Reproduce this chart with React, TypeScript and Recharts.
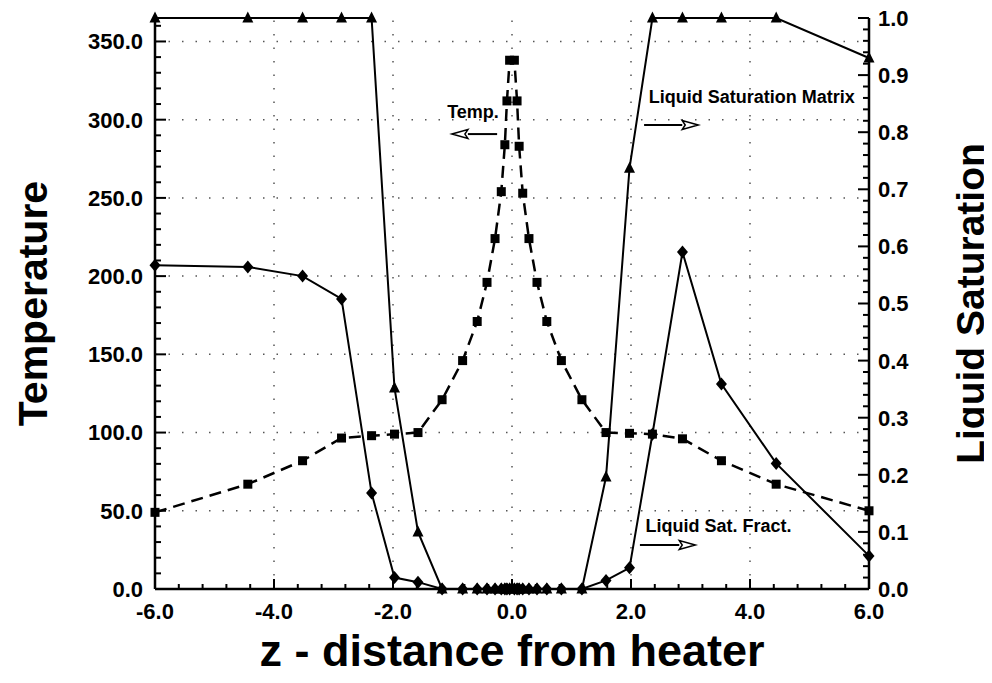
import { LineChart, Line, XAxis, YAxis, ReferenceLine, ReferenceDot } from 'recharts'

// z positions (distance from heater) shared by all three curves
const Z = [
  -6, -4.44, -3.52, -2.865, -2.36, -1.975, -1.58, -1.175, -0.83, -0.585, -0.42, -0.285, -0.18, -0.12, -0.085, -0.04,
  0.04, 0.085, 0.12, 0.18, 0.285, 0.42, 0.585, 0.83, 1.175, 1.58, 1.975, 2.36, 2.865, 3.52, 4.44, 6,
]
// temperature, left axis
const TEMP = [
  49, 67, 82, 96.5, 98, 99, 100, 121, 146, 171, 196, 224, 254, 284, 312, 338,
  338, 312, 283, 253, 224, 196, 171, 146, 121, 100, 99.5, 99, 96, 82, 67, 50,
]
// liquid saturation of the matrix, right axis
const SAT_MATRIX = [
  1, 1, 1, 1, 1, 0.352, 0.1, 0, 0, 0, 0, 0, 0, 0, 0, 0,
  0, 0, 0, 0, 0, 0, 0, 0, 0, 0.196, 0.737, 1, 1, 1, 1, 0.93,
]
// liquid saturation in fractures, right axis
const SAT_FRACT = [
  0.567, 0.564, 0.548, 0.508, 0.168, 0.02, 0.012, 0, 0, 0, 0, 0, 0, 0, 0, 0,
  0, 0, 0, 0, 0, 0, 0, 0, 0, 0.015, 0.037, 0.271, 0.59, 0.359, 0.22, 0.058,
]

const X_MAJOR = [-6, -4, -2, 0, 2, 4, 6]
const X_GRID = [-4, -2, 0, 2, 4]
const T_MAJOR = [0, 50, 100, 150, 200, 250, 300, 350]
const T_GRID = [50, 100, 150, 200, 250, 300, 350]
const S_MAJOR = [0, 0.1, 0.2, 0.3, 0.4, 0.5, 0.6, 0.7, 0.8, 0.9, 1.0]

const rows = Z.map((z, i) => ({ z, temp: TEMP[i], matrix: SAT_MATRIX[i], fract: SAT_FRACT[i] }))

// minor tick positions (axis decoration only)
const steps = (from: number, to: number, step: number) =>
  Array.from({ length: Math.round((to - from) / step) + 1 }, (_, i) => +(from + i * step).toFixed(4))
const X_TICKS = steps(-6, 6, 0.4)
const T_TICKS = steps(0, 360, 10)
const S_TICKS = steps(0, 1, 0.02)

const FONT = '"Liberation Sans", Arial, Helvetica, sans-serif'
const isMajor = (v: number, list: number[]) => list.some(m => Math.abs(m - v) < 1e-6)

const BottomTick = (p: any) => {
  const v = p.payload.value
  const major = isMajor(v, X_MAJOR)
  const ay = p.y - 14
  return (
    <g>
      <line x1={p.x} x2={p.x} y1={ay} y2={ay - (major ? 10 : 5)} stroke="#000" strokeWidth={2} />
      {major && (
        <text x={p.x} y={p.y} dy={16} textAnchor="middle" fontFamily={FONT} fontWeight="bold" fontSize={22} fill="#000">
          {v.toFixed(1)}
        </text>
      )}
    </g>
  )
}

const TopTick = (p: any) => {
  const major = isMajor(p.payload.value, X_MAJOR)
  return <line x1={p.x} x2={p.x} y1={p.y} y2={p.y + (major ? 10 : 5)} stroke="#000" strokeWidth={2} />
}

const LeftTick = (p: any) => {
  const v = p.payload.value
  const major = isMajor(v, T_MAJOR)
  const ax = p.x + 12
  return (
    <g>
      <line x1={ax} x2={ax + (major ? 11 : 6)} y1={p.y} y2={p.y} stroke="#000" strokeWidth={2} />
      {major && (
        <text x={p.x} y={p.y} dy="0.36em" textAnchor="end" fontFamily={FONT} fontWeight="bold" fontSize={22} fill="#000">
          {v.toFixed(1)}
        </text>
      )}
    </g>
  )
}

const RightTick = (p: any) => {
  const v = p.payload.value
  const major = isMajor(v, S_MAJOR)
  const ax = p.x - 9
  return (
    <g>
      <line x1={ax} x2={ax - (major ? 11 : 6)} y1={p.y} y2={p.y} stroke="#000" strokeWidth={2} />
      {major && (
        <text x={p.x} y={p.y} dy="0.36em" textAnchor="start" fontFamily={FONT} fontWeight="bold" fontSize={22} fill="#000">
          {v.toFixed(1)}
        </text>
      )}
    </g>
  )
}

const Square = (p: any) => (
  <rect key={`sq-${p.index}`} x={p.cx - 4.5} y={p.cy - 4.5} width={9} height={9} fill="#000" />
)
const Triangle = (p: any) => (
  <polygon
    key={`tr-${p.index}`}
    points={`${p.cx},${p.cy - 6.5} ${p.cx - 5.5},${p.cy + 4.5} ${p.cx + 5.5},${p.cy + 4.5}`}
    fill="#000"
  />
)
const Diamond = (p: any) => (
  <polygon
    key={`dm-${p.index}`}
    points={`${p.cx},${p.cy - 6.5} ${p.cx + 5.5},${p.cy} ${p.cx},${p.cy + 6.5} ${p.cx - 5.5},${p.cy}`}
    fill="#000"
  />
)

// open-headed annotation arrow
const Arrow = (p: any) => {
  const d = p.x2 > p.x1 ? 1 : -1
  const bx = p.x2 - d * 16
  return (
    <g>
      <line x1={p.x1} y1={p.y1} x2={bx} y2={p.y2} stroke="#000" strokeWidth={2} />
      <polygon
        points={`${p.x2},${p.y2} ${bx},${p.y2 - 4.5} ${bx + d * 3},${p.y2} ${bx},${p.y2 + 4.5}`}
        fill="#fff"
        stroke="#000"
        strokeWidth={1.5}
      />
    </g>
  )
}

const note = (text: string) => (p: any) => (
  <text x={p.cx} y={p.cy} dy="0.36em" textAnchor="middle" fontFamily={FONT} fontWeight="bold" fontSize={18} fill="#000">
    {text}
  </text>
)

const titleStyle = (size: number) =>
  ({ fontFamily: FONT, fontWeight: 'bold', fontSize: size, fill: '#000', textAnchor: 'middle' }) as const

export default function App() {
  return (
    <div style={{ background: '#fff', width: 984, height: 667 }}>
      <LineChart width={984} height={667} data={rows} margin={{ top: 10, right: 0, bottom: 0, left: 0 }}>
        <XAxis
          xAxisId="b"
          type="number"
          dataKey="z"
          domain={[-6, 6]}
          ticks={X_TICKS}
          interval={0}
          height={86}
          tickSize={0}
          tickMargin={14}
          tickLine={false}
          tick={BottomTick}
          axisLine={{ stroke: '#000', strokeWidth: 2.5 }}
          label={{ value: 'z - distance from heater', position: 'insideBottom', offset: 9, style: titleStyle(45) }}
        />
        <XAxis
          xAxisId="t"
          orientation="top"
          type="number"
          dataKey="z"
          domain={[-6, 6]}
          ticks={X_TICKS}
          interval={0}
          height={0}
          tickSize={0}
          tickMargin={0}
          tickLine={false}
          tick={TopTick}
          axisLine={{ stroke: '#000', strokeWidth: 2.5 }}
        />
        <YAxis
          yAxisId="temp"
          domain={[0, 365]}
          ticks={T_TICKS}
          interval={0}
          width={147}
          tickSize={0}
          tickMargin={12}
          tickLine={false}
          tick={LeftTick}
          axisLine={{ stroke: '#000', strokeWidth: 2.5 }}
          label={{ value: 'Temperature', angle: -90, position: 'insideLeft', offset: 24, style: titleStyle(41) }}
        />
        <YAxis
          yAxisId="sat"
          orientation="right"
          domain={[0, 1]}
          ticks={S_TICKS}
          interval={0}
          width={123}
          tickSize={0}
          tickMargin={9}
          tickLine={false}
          tick={RightTick}
          axisLine={{ stroke: '#000', strokeWidth: 2.5 }}
          label={{ value: 'Liquid Saturation', angle: -90, position: 'insideRight', offset: 22, style: titleStyle(39) }}
        />

        {T_GRID.map(t => (
          <ReferenceLine key={`gy${t}`} xAxisId="b" yAxisId="temp" y={t} stroke="#555" strokeWidth={1.5} strokeDasharray="1.5 12" />
        ))}
        {X_GRID.map(x => (
          <ReferenceLine key={`gx${x}`} xAxisId="b" yAxisId="temp" x={x} stroke="#555" strokeWidth={1.5} strokeDasharray="1.5 12" />
        ))}

        <Line
          xAxisId="b"
          yAxisId="sat"
          dataKey="matrix"
          type="linear"
          stroke="#000"
          strokeWidth={2}
          dot={Triangle}
          activeDot={false}
          isAnimationActive={false}
        />
        <Line
          xAxisId="b"
          yAxisId="sat"
          dataKey="fract"
          type="linear"
          stroke="#000"
          strokeWidth={2}
          dot={Diamond}
          activeDot={false}
          isAnimationActive={false}
        />
        <Line
          xAxisId="b"
          yAxisId="temp"
          dataKey="temp"
          type="linear"
          stroke="#000"
          strokeWidth={2.5}
          strokeDasharray="12 7"
          dot={Square}
          activeDot={false}
          isAnimationActive={false}
        />

        <ReferenceDot xAxisId="b" yAxisId="temp" x={-0.655} y={305} r={0} shape={note('Temp.')} />
        <ReferenceLine xAxisId="b" yAxisId="temp" segment={[{ x: -0.25, y: 290.8 }, { x: -1.01, y: 290.8 }]} shape={Arrow} />
        <ReferenceDot xAxisId="b" yAxisId="temp" x={4.03} y={314.5} r={0} shape={note('Liquid Saturation Matrix')} />
        <ReferenceLine xAxisId="b" yAxisId="temp" segment={[{ x: 2.22, y: 296.6 }, { x: 3.13, y: 296.6 }]} shape={Arrow} />
        <ReferenceDot xAxisId="b" yAxisId="temp" x={3.47} y={40.3} r={0} shape={note('Liquid Sat. Fract.')} />
        <ReferenceLine xAxisId="b" yAxisId="temp" segment={[{ x: 2.15, y: 28.1 }, { x: 3.08, y: 28.1 }]} shape={Arrow} />
      </LineChart>
    </div>
  )
}
